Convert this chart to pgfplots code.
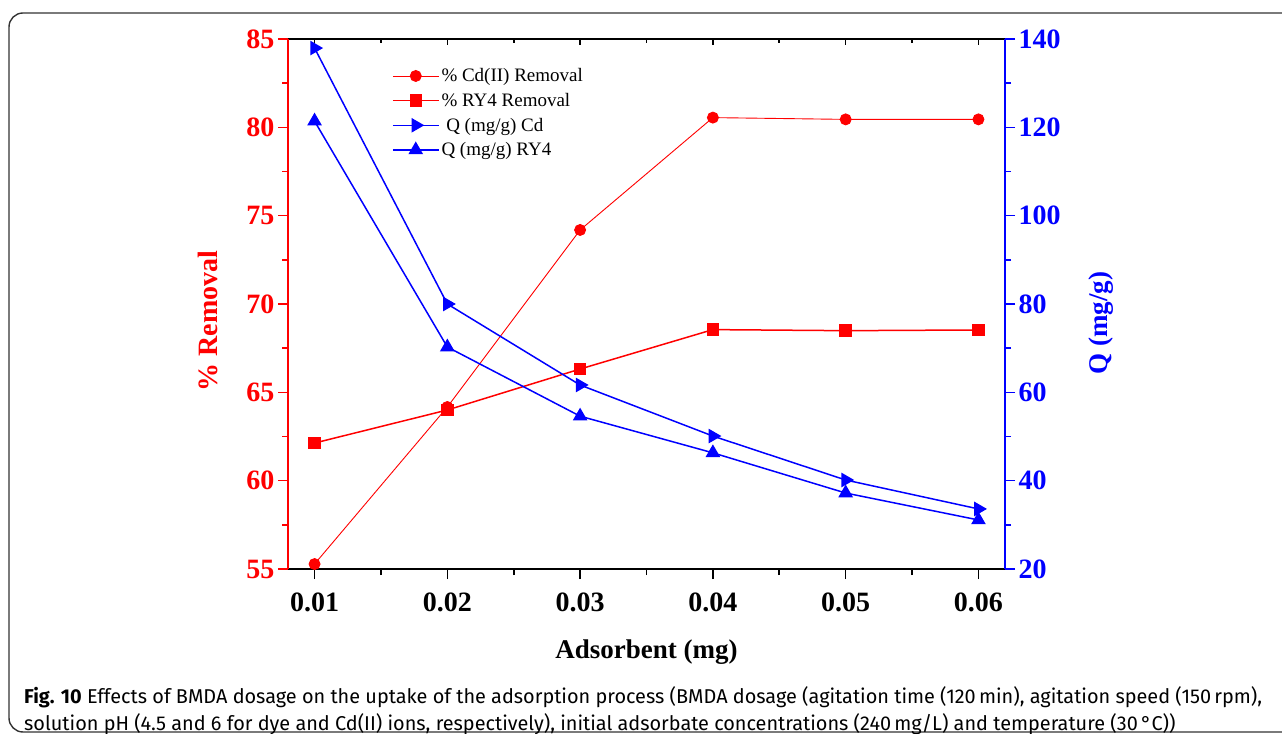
\documentclass[border=0pt]{standalone}
\usepackage{pgfplots}
\pgfplotsset{compat=1.18}
\usepackage{fontspec}
\setmainfont{Liberation Serif}
\newfontfamily\capfont{Fira Sans}
\newsavebox\capA
\newsavebox\capB
\definecolor{pr}{RGB}{255,0,0}
\definecolor{pb}{RGB}{0,0,255}
\pgfplotsset{
  common/.style={
    scale only axis, width=717bp, height=530bp,
    at={(288bp,165bp)}, anchor=south west,
    xmin=0.008, xmax=0.062,
    xtick={0.01,0.02,0.03,0.04,0.05,0.06},
    minor xtick={0.015,0.025,0.035,0.045,0.055},
    scaled x ticks=false, scaled y ticks=false,
    /pgf/number format/assume math mode=true,
    clip=false,
  },
  lbl/.style={font=\bfseries\fontsize{28bp}{28bp}\selectfont},
}
\begin{document}
\sbox\capA{\capfont\fontsize{20bp}{28bp}\selectfont\textbf{Fig. 10} Effects of BMDA dosage on the uptake of the adsorption process (BMDA dosage (agitation time (120\,min), agitation speed (150\,rpm),}%
\sbox\capB{\capfont\fontsize{20bp}{28bp}\selectfont solution pH (4.5 and 6 for dye and Cd(II) ions, respectively), initial adsorbate concentrations (240\,mg/L) and temperature (30\,°C))}%
\pgfmathsetmacro\capscale{1238bp/\wd\capA}%
\begin{tikzpicture}
\useasboundingbox (0bp,0bp) rectangle (1282bp,734bp);
\draw[line width=1.4bp, rounded corners=14bp, black!80] (1300bp,721bp) -- (9bp,721bp) -- (9bp,2bp) -- (1300bp,2bp);

% top axis line with inward ticks
\begin{axis}[common, ymin=0, ymax=1, axis x line*=top, axis y line=none,
  tick align=inside, xticklabels={}, major tick length=6bp, minor tick length=4bp,
  x axis line style={black, line width=2bp}, every tick/.style={black, line width=1.6bp}]
\end{axis}

% left axis (red)
\begin{axis}[common, ymin=55, ymax=85,
  axis y line*=left, axis x line*=bottom, tick align=outside,
  major tick length=10bp, minor tick length=6bp,
  ytick={55,60,65,70,75,80,85}, minor ytick={57.5,62.5,67.5,72.5,77.5,82.5},
  xticklabels={0.01,0.02,0.03,0.04,0.05,0.06},
  y axis line style={pr, line width=2bp}, x axis line style={black, line width=2bp},
  every tick/.style={line width=1.6bp},
  y tick style={pr}, x tick style={black},
  yticklabel style={pr, lbl}, xticklabel style={black, lbl, yshift=-10bp},
  ylabel={\% Removal}, xlabel={Adsorbent (mg)},
  ylabel style={pr, font=\bfseries\fontsize{28bp}{28bp}\selectfont, at={(axis description cs:-0.112,0.468)}, anchor=center},
  xlabel style={black, font=\bfseries\fontsize{27bp}{27bp}\selectfont, at={(axis description cs:0.5,-0.157)}, anchor=center},
]
\addplot[pr, line width=0.9bp, mark=*, mark size=5.5bp, mark options={solid}] coordinates {
 (0.01,55.28) (0.02,64.17) (0.03,74.19) (0.04,80.55) (0.05,80.45) (0.06,80.45)};
\addplot[pr, line width=1.5bp, mark=square*, mark size=5.5bp] coordinates {
 (0.01,62.13) (0.02,64.0) (0.03,66.32) (0.04,68.55) (0.05,68.49) (0.06,68.53)};
\end{axis}

% right axis (blue)
\begin{axis}[common, ymin=20, ymax=140,
  axis y line*=right, axis x line=none, tick align=outside,
  major tick length=10bp, minor tick length=6bp,
  ytick={20,40,60,80,100,120,140}, minor ytick={30,50,70,90,110,130},
  y axis line style={pb, line width=2bp},
  every tick/.style={line width=1.6bp}, y tick style={pb},
  yticklabel style={pb, lbl},
  ylabel={Q (mg/g)},
  ylabel style={pb, font=\bfseries\fontsize{27bp}{27bp}\selectfont, at={(axis description cs:1.134,0.464)}, anchor=center},
  legend style={at={(0.142,0.952)}, anchor=north west, draw=none, fill=none,
    font=\fontsize{19bp}{19bp}\selectfont, row sep=6bp, inner sep=2bp},
  legend cell align=left,
  legend image code/.code={\draw[mark repeat=2,mark phase=2] plot coordinates {(0bp,0bp)(23bp,0bp)(46bp,0bp)};},
]
\addlegendimage{pr, line width=0.9bp, mark=*, mark size=5.5bp}
\addlegendentry{\% Cd(II) Removal}
\addlegendimage{pr, line width=1.5bp, mark=square*, mark size=5.5bp}
\addlegendentry{\% RY4 Removal}
\addplot[pb, line width=1.5bp, mark=triangle*, mark size=7bp, mark options={rotate=-90}] coordinates {
 (0.01,137.95) (0.02,80.0) (0.03,61.66) (0.04,50.1) (0.05,40.15) (0.06,33.6)};
\addlegendentry{\ Q (mg/g) Cd}
\addplot[pb, line width=1.5bp, mark=triangle*, mark size=7bp] coordinates {
 (0.01,121.4) (0.02,70.26) (0.03,54.6) (0.04,46.3) (0.05,37.2) (0.06,31.1)};
\addlegendentry{Q (mg/g) RY4}
\end{axis}

% caption
\node[anchor=base west, inner sep=0] at (24bp,31bp) {\scalebox{\capscale}[1]{\usebox\capA}};
\node[anchor=base west, inner sep=0] at (24bp,4bp) {\scalebox{\capscale}[1]{\usebox\capB}};
\end{tikzpicture}
\end{document}
